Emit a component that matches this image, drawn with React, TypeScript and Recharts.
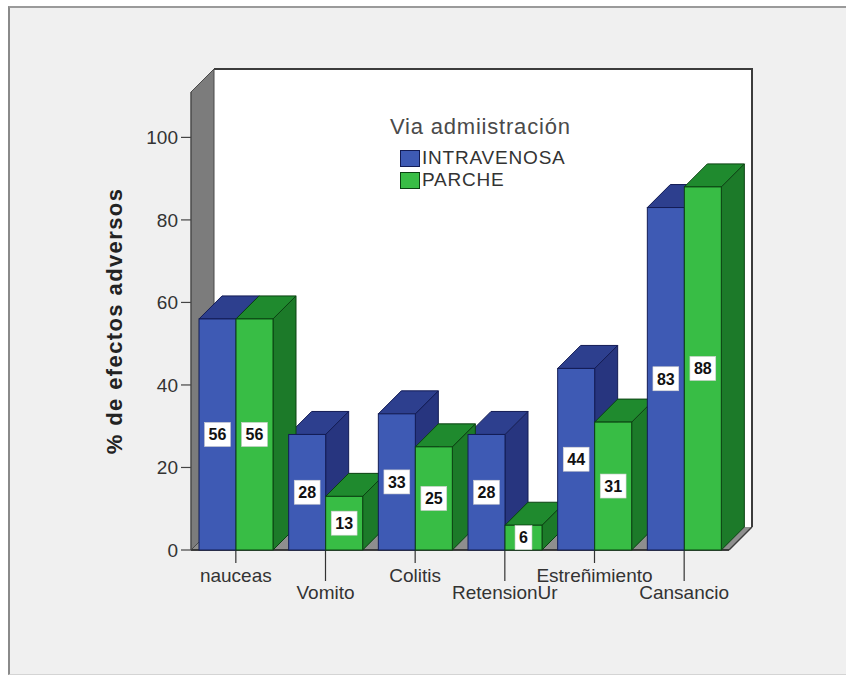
import React from 'react';
import { BarChart, Bar, XAxis, YAxis, ReferenceArea, LabelList, Legend } from 'recharts';

// ---------- data ----------
const categories = ['nauceas', 'Vomito', 'Colitis', 'RetensionUr', 'Estreñimiento', 'Cansancio'];
const intravenosa = [56, 28, 33, 28, 44, 83];
const parche = [56, 13, 25, 6, 31, 88];
const yTicks = [0, 20, 40, 60, 80, 100];
const seriesNames = ['INTRAVENOSA', 'PARCHE'];
const legendTitle = 'Via admiistración';
const yAxisTitle = '% de efectos adversos';

const data = categories.map((name, i) => ({ name, intravenosa: intravenosa[i], parche: parche[i] }));

// ---------- style ----------
const W = 836;
const H = 666;
const D = 23; // 3D depth offset
const Y_MAX = 111;
const FONT = '"Liberation Sans", Arial, sans-serif';
const MARGIN_HIDDEN = { top: 84, right: 117, bottom: 124, left: 181 };
const MARGIN_AXES = { top: 84, right: 117, bottom: 94, left: 121 };

const BLUE = { front: '#3e5ab4', top: '#2d3f8e', side: '#27357f', edge: '#131c55' };
const GREEN = { front: '#38bd45', top: '#1f8a2e', side: '#1c7a29', edge: '#0b4212' };
const COLORS = [BLUE, GREEN];

// ---------- shapes ----------
const Walls = (p: any) => {
  const { x, y, width: w, height: h } = p;
  return (
    <g>
      <polygon
        points={`${x},${y + h} ${x + w},${y + h} ${x + w + D},${y + h - D} ${x + D},${y + h - D}`}
        fill="#8e8e8e"
      />
      <rect x={x + D} y={y - D} width={w} height={h} fill="#ffffff" />
      <polyline
        points={`${x + D},${y - D} ${x + w + D},${y - D} ${x + w + D},${y + h - D}`}
        fill="none"
        stroke="#3c3c3c"
        strokeWidth={2}
      />
      <polygon
        points={`${x},${y} ${x + D},${y - D} ${x + D},${y + h - D} ${x},${y + h}`}
        fill="#7c7c7c"
        stroke="#4a4a4a"
        strokeWidth={1}
      />
      <line x1={x + w} y1={y + h} x2={x + w + D} y2={y + h - D} stroke="#3c3c3c" strokeWidth={1.5} />
      <line x1={x} y1={y + h} x2={x + w} y2={y + h} stroke="#333" strokeWidth={1.5} />
    </g>
  );
};

const Nothing = () => <g />;

const makeDepth = (c: typeof BLUE) => (p: any) => {
  const { x, y, width: w, height: h } = p;
  if (!(h > 0)) return <g />;
  return (
    <g>
      <polygon
        points={`${x + w},${y} ${x + w + D},${y - D} ${x + w + D},${y + h - D} ${x + w},${y + h}`}
        fill={c.side}
        stroke={c.edge}
        strokeWidth={1}
        strokeLinejoin="round"
      />
      <polygon
        points={`${x},${y} ${x + D},${y - D} ${x + w + D},${y - D} ${x + w},${y}`}
        fill={c.top}
        stroke={c.edge}
        strokeWidth={1}
        strokeLinejoin="round"
      />
    </g>
  );
};

const makeFront = (c: typeof BLUE) => (p: any) => {
  const { x, y, width: w, height: h } = p;
  if (!(h > 0)) return <g />;
  return <rect x={x} y={y} width={w} height={h} fill={c.front} stroke={c.edge} strokeWidth={1} />;
};

const ValueBox = (p: any) => {
  const vb = p.viewBox || p;
  const x = vb.x ?? p.x;
  const y = vb.y ?? p.y;
  const width = vb.width ?? p.width;
  const height = vb.height ?? p.height;
  const cx = x + width / 2;
  const cy = y + height / 2;
  const s = String(p.value);
  const bw = s.length * 8.9 + 8;
  const bh = 24;
  return (
    <g>
      <rect x={cx - bw / 2} y={cy - bh / 2} width={bw} height={bh} fill="#ffffff" stroke="#d0d0d0" strokeWidth={0.6} />
      <text
        x={cx}
        y={cy}
        dy="0.36em"
        textAnchor="middle"
        fontSize={16}
        fontWeight="bold"
        fill="#111"
        fontFamily={FONT}
      >
        {s}
      </text>
    </g>
  );
};

const XTick = (p: any) => {
  const { x, y, payload, index } = p;
  const low = index % 2 === 1;
  const len = low ? 31 : 13;
  const ty = low ? 49 : 32;
  return (
    <g>
      <line x1={x} y1={y} x2={x} y2={y + len} stroke="#333" strokeWidth={1.2} />
      <text x={x} y={y + ty} textAnchor="middle" fontSize={19} fill="#333" fontFamily={FONT}>
        {payload.value}
      </text>
    </g>
  );
};

const YTitle = (p: any) => {
  const vb = p.viewBox || { x: 121, y: 84, width: 60, height: 458 };
  const cx = vb.x - 17;
  const cy = vb.y + vb.height / 2;
  return (
    <text
      x={cx}
      y={cy}
      transform={`rotate(-90 ${cx} ${cy})`}
      textAnchor="middle"
      dominantBaseline="central"
      fontSize={22}
      fontWeight="bold"
      letterSpacing={1.4}
      fill="#222"
      fontFamily={FONT}
    >
      {yAxisTitle}
    </text>
  );
};

const LegendBox = (p: any) => {
  const payload = p && p.payload && p.payload.length ? p.payload : seriesNames.map((n, i) => ({ value: n, color: COLORS[i].front }));
  return (
    <div style={{ fontFamily: FONT, color: '#333' }}>
      <div style={{ fontSize: 22, letterSpacing: 0.8, color: '#4a4a4a', height: 26, lineHeight: '26px', whiteSpace: 'nowrap' }}>
        {legendTitle}
      </div>
      <div style={{ height: 7 }} />
      {payload.map((e: any, i: number) => (
        <div key={i} style={{ display: 'flex', alignItems: 'center', height: 22, marginLeft: 10 }}>
          <div
            style={{
              width: 20,
              height: 17,
              background: e.color,
              border: `1px solid ${COLORS[i].edge}`,
              boxSizing: 'border-box',
              marginRight: 2,
            }}
          />
          <span style={{ fontSize: 19, letterSpacing: 0.8, lineHeight: '22px', whiteSpace: 'nowrap' }}>{e.value}</span>
        </div>
      ))}
    </div>
  );
};

const layer: React.CSSProperties = { position: 'absolute', left: 0, top: 0 };

export default function App() {
  return (
    <>
      <style>{'html,body{margin:0;padding:0;overflow:hidden;background:#ffffff;}'}</style>
      <div
        style={{
          position: 'relative',
          width: 838,
          height: 669,
          margin: '6px 0 0 8px',
          background: '#f0f0f0',
          borderTop: '2px solid #9a9a9a',
          borderLeft: '2px solid #8a8a8a',
          borderBottom: '1px solid #d4d4d4',
          boxSizing: 'border-box',
          fontFamily: FONT,
        }}
      >
        {/* layer 1: walls + axes */}
        <div style={layer}>
          <BarChart width={W} height={H} data={data} margin={MARGIN_AXES} barCategoryGap={8} barGap={0}>
            <ReferenceArea y1={0} y2={Y_MAX} ifOverflow="visible" shape={Walls} />
            <XAxis
              dataKey="name"
              height={30}
              tickSize={0}
              tickMargin={0}
              interval={0}
              axisLine={{ stroke: '#333', strokeWidth: 1.5 }}
              tickLine={false}
              tick={<XTick />}
            />
            <YAxis
              width={60}
              domain={[0, Y_MAX]}
              ticks={yTicks}
              tickSize={10}
              tickMargin={3}
              axisLine={{ stroke: '#4a4a4a' }}
              tickLine={{ stroke: '#444', strokeWidth: 1.2 }}
              tick={{ fontSize: 19, fill: '#333', fontFamily: FONT }}
              label={{ content: YTitle }}
            />
            <Bar dataKey="intravenosa" fill="none" isAnimationActive={false} shape={Nothing} />
            <Bar dataKey="parche" fill="none" isAnimationActive={false} shape={Nothing} />
          </BarChart>
        </div>
        {/* layer 2: bar tops and sides */}
        <div style={layer}>
          <BarChart width={W} height={H} data={data} margin={MARGIN_HIDDEN} barCategoryGap={8} barGap={0}>
            <XAxis dataKey="name" hide />
            <YAxis domain={[0, Y_MAX]} hide />
            <Bar dataKey="intravenosa" fill={BLUE.front} isAnimationActive={false} shape={makeDepth(BLUE)} />
            <Bar dataKey="parche" fill={GREEN.front} isAnimationActive={false} shape={makeDepth(GREEN)} />
          </BarChart>
        </div>
        {/* layer 3: bar fronts, value labels, legend */}
        <div style={layer}>
          <BarChart width={W} height={H} data={data} margin={MARGIN_HIDDEN} barCategoryGap={8} barGap={0}>
            <XAxis dataKey="name" hide />
            <YAxis domain={[0, Y_MAX]} hide />
            <Legend
              layout="vertical"
              align="center"
              verticalAlign="middle"
              wrapperStyle={{ left: 380, top: 106, width: 240, height: 80, margin: 0 }}
              content={<LegendBox />}
            />
            <Bar dataKey="intravenosa" name={seriesNames[0]} fill={BLUE.front} isAnimationActive={false} shape={makeFront(BLUE)}>
              <LabelList dataKey="intravenosa" content={<ValueBox />} />
            </Bar>
            <Bar dataKey="parche" name={seriesNames[1]} fill={GREEN.front} isAnimationActive={false} shape={makeFront(GREEN)}>
              <LabelList dataKey="parche" content={<ValueBox />} />
            </Bar>
          </BarChart>
        </div>
      </div>
    </>
  );
}
